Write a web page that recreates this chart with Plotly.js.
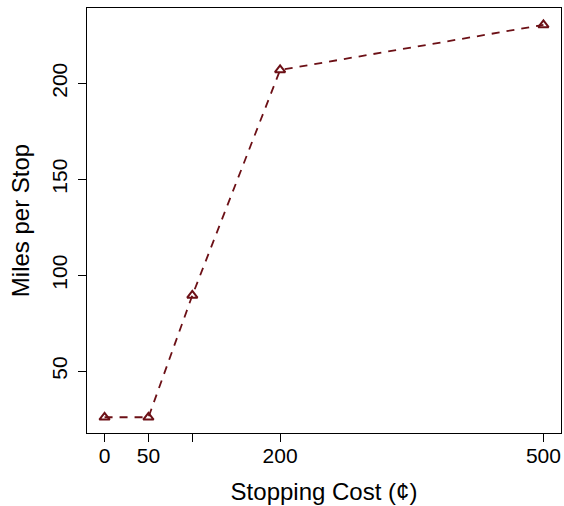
<!DOCTYPE html>
<html>
<head>
<meta charset="utf-8">
<script src="https://cdn.plot.ly/plotly-3.0.1.min.js"></script>
<style>html,body{margin:0;padding:0;background:#fff;}</style>
</head>
<body>
<div id="chart" style="width:564px;height:506px;"></div>
<script>
const stoppingCost = [0, 50, 100, 200, 500];
const milesPerStop = [26, 26, 89.5, 207, 230.5];
const xTickVals = [0, 50, 100, 200, 500];
const xTickText = ['0', '50', '', '200', '500'];
const yTickVals = [50, 100, 150, 200];
const yTickText = ['50', '100', '150', '200'];

const col = '#6c1016';
const trace = {
  x: stoppingCost,
  y: milesPerStop,
  type: 'scatter',
  mode: 'lines+markers',
  line: {color: col, width: 1.8, dash: '8px,7px'},
  marker: {symbol: 'triangle-up-open', size: 9, color: col, line: {color: col, width: 2}},
  showlegend: false
};

const font = {family: 'Liberation Sans, Arial, sans-serif', color: '#000'};
const layout = {
  width: 564, height: 506,
  margin: {l: 87, r: 3, t: 8, b: 73, pad: 0},
  paper_bgcolor: '#fff', plot_bgcolor: '#fff',
  font: Object.assign({size: 21}, font),
  xaxis: {
    range: [-20, 520],
    tickvals: xTickVals, ticktext: xTickText,
    ticks: 'outside', ticklen: 8, tickwidth: 1, tickcolor: '#000',
    showline: true, mirror: true, linecolor: '#000', linewidth: 1.2,
    showgrid: false, zeroline: false,
    tickfont: {size: 21},
    ticklabelstandoff: -4,
    title: {text: 'Stopping Cost (¢)', font: {size: 24}, standoff: 16}
  },
  yaxis: {
    range: [17.8, 239.3],
    tickvals: yTickVals, ticktext: yTickText,
    tickangle: -90,
    ticks: 'outside', ticklen: 8, tickwidth: 1, tickcolor: '#000',
    showline: true, mirror: true, linecolor: '#000', linewidth: 1.2,
    showgrid: false, zeroline: false,
    tickfont: {size: 21},
    ticklabelstandoff: 2,
    title: {text: 'Miles per Stop', font: {size: 24}, standoff: 12}
  }
};

Plotly.newPlot('chart', [trace], layout, {displayModeBar: false, staticPlot: true});
</script>
</body>
</html>
